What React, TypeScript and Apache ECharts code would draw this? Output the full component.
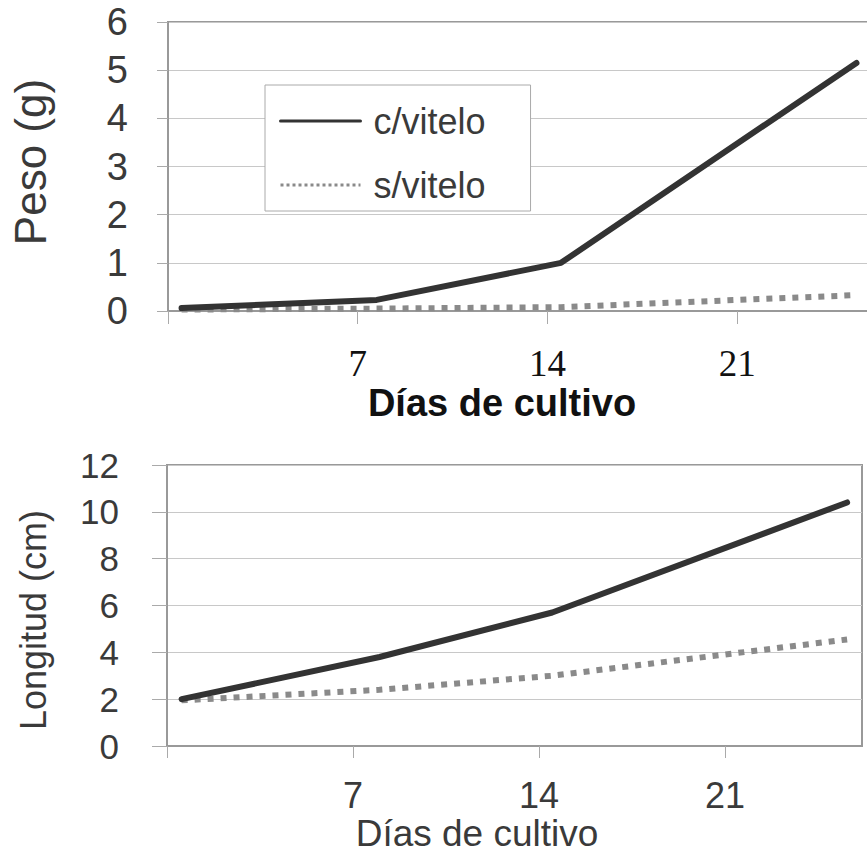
import React, { useEffect, useRef } from "react";
import * as echarts from "echarts";

// Sampling days (x positions)
const pesoDias = [0.5, 7.7, 14.5, 25.4];
const longDias = [0.55, 8.0, 14.5, 25.6];

// Weight (g)
const pesoConVitelo = [0.06, 0.23, 1.0, 5.15];
const pesoSinVitelo = [0.03, 0.05, 0.08, 0.33];

// Length (cm)
const longConVitelo = [2.0, 3.8, 5.7, 10.4];
const longSinVitelo = [1.95, 2.4, 3.0, 4.55];

const xTickValues = [0, 7, 14, 21];
const xLabelValues = [7, 14, 21];
const seriesNames = ["c/vitelo", "s/vitelo"];

const SANS = "Liberation Sans, Arial, sans-serif";
const SERIF = "Liberation Serif, Times New Roman, serif";

const pair = (xs: number[], ys: number[]) => xs.map((x, i) => [x, ys[i]]);

export default function App() {
  const ref = useRef<HTMLDivElement>(null);

  useEffect(() => {
    if (!ref.current) return;
    const chart = echarts.init(ref.current, null, { renderer: "svg" });

    const solid = {
      color: "#333",
      width: 6,
      cap: "round",
      join: "round",
    };
    const dotted = {
      color: "#8a8a8a",
      width: 6,
      type: [6, 7],
      cap: "butt",
    };
    const hiddenSymbol = { color: "rgba(0,0,0,0)", borderWidth: 0, opacity: 0 };

    chart.setOption({
      animation: false,
      backgroundColor: "#fff",
      grid: [
        {
          left: 168,
          top: 22,
          width: 702,
          height: 289,
          show: true,
          borderColor: "#999",
          borderWidth: 2,
          outerBoundsMode: "none",
        },
        {
          left: 167,
          top: 465,
          width: 695,
          height: 281,
          show: true,
          borderColor: "#999",
          borderWidth: 2,
          outerBoundsMode: "none",
        },
      ],
      xAxis: [
        {
          gridIndex: 0,
          type: "value",
          min: 0,
          max: 25.9,
          interval: 7,
          axisLine: { show: true, lineStyle: { color: "#999", width: 2 } },
          axisTick: {
            show: true,
            length: 13,
            lineStyle: { color: "#aaa", width: 1 },
            customValues: xTickValues,
          },
          axisLabel: {
            customValues: xLabelValues,
            fontFamily: SERIF,
            fontSize: 37,
            color: "#111",
            margin: 34,
          },
          splitLine: { show: false },
        },
        {
          gridIndex: 1,
          type: "value",
          min: 0,
          max: 26.16,
          interval: 7,
          axisLine: { show: true, lineStyle: { color: "#999", width: 2 } },
          axisTick: {
            show: true,
            length: 12,
            lineStyle: { color: "#aaa", width: 1 },
            customValues: xTickValues,
          },
          axisLabel: {
            customValues: xLabelValues,
            fontFamily: SANS,
            fontSize: 36,
            color: "#3a3a3a",
            margin: 31,
          },
          splitLine: { show: false },
        },
      ],
      yAxis: [
        {
          gridIndex: 0,
          type: "value",
          min: 0,
          max: 6,
          interval: 1,
          axisLine: { show: true, lineStyle: { color: "#999", width: 2 } },
          axisTick: {
            show: true,
            length: 11,
            lineStyle: { color: "#aaa", width: 1 },
          },
          axisLabel: {
            fontFamily: SANS,
            fontSize: 38,
            color: "#3a3a3a",
            margin: 40,
          },
          splitLine: { show: true, lineStyle: { color: "#c8c8c8", width: 1 } },
        },
        {
          gridIndex: 1,
          type: "value",
          min: 0,
          max: 12,
          interval: 2,
          axisLine: { show: true, lineStyle: { color: "#999", width: 2 } },
          axisTick: {
            show: true,
            length: 15,
            lineStyle: { color: "#aaa", width: 1 },
          },
          axisLabel: {
            fontFamily: SANS,
            fontSize: 35,
            color: "#3a3a3a",
            margin: 48,
          },
          splitLine: { show: true, lineStyle: { color: "#c8c8c8", width: 1 } },
        },
      ],
      legend: {
        show: true,
        orient: "vertical",
        left: 265,
        top: 85,
        padding: [18, 45, 8, 14],
        itemGap: 28,
        itemWidth: 80,
        itemHeight: 20,
        borderColor: "#aaa",
        borderWidth: 1,
        backgroundColor: "#fff",
        textStyle: {
          fontFamily: SANS,
          fontSize: 36,
          color: "#3a3a3a",
          padding: [0, 0, 0, 8],
        },
        data: [
          {
            name: seriesNames[0],
            itemStyle: hiddenSymbol,
            lineStyle: { width: 3, color: "#333", type: "solid" },
          },
          {
            name: seriesNames[1],
            itemStyle: hiddenSymbol,
            lineStyle: { width: 3, color: "#8a8a8a", type: [3, 3] },
          },
        ],
      },
      series: [
        {
          name: seriesNames[0],
          type: "line",
          xAxisIndex: 0,
          yAxisIndex: 0,
          data: pair(pesoDias, pesoConVitelo),
          symbol: "none",
          itemStyle: { color: "#333" },
          lineStyle: solid,
          z: 3,
        },
        {
          name: seriesNames[1],
          type: "line",
          xAxisIndex: 0,
          yAxisIndex: 0,
          data: pair(pesoDias, pesoSinVitelo),
          symbol: "none",
          itemStyle: { color: "#8a8a8a" },
          lineStyle: dotted,
          z: 2,
        },
        {
          name: seriesNames[0],
          type: "line",
          xAxisIndex: 1,
          yAxisIndex: 1,
          data: pair(longDias, longConVitelo),
          symbol: "none",
          itemStyle: { color: "#333" },
          lineStyle: solid,
          z: 3,
        },
        {
          name: seriesNames[1],
          type: "line",
          xAxisIndex: 1,
          yAxisIndex: 1,
          data: pair(longDias, longSinVitelo),
          symbol: "none",
          itemStyle: { color: "#8a8a8a" },
          lineStyle: dotted,
          z: 2,
        },
      ],
      graphic: [
        {
          type: "text",
          x: 30,
          y: 162,
          rotation: Math.PI / 2,
          style: {
            text: "Peso (g)",
            fontFamily: SANS,
            fontSize: 44,
            fill: "#3a3a3a",
            align: "center",
            verticalAlign: "middle",
            textAlign: "center",
            textVerticalAlign: "middle",
          },
        },
        {
          type: "text",
          x: 502,
          y: 403,
          style: {
            text: "Días de cultivo",
            fontFamily: SANS,
            fontWeight: "bold",
            fontSize: 38,
            fill: "#111",
            align: "center",
            verticalAlign: "middle",
            textAlign: "center",
            textVerticalAlign: "middle",
          },
        },
        {
          type: "text",
          x: 33,
          y: 620,
          rotation: Math.PI / 2,
          style: {
            text: "Longitud (cm)",
            fontFamily: SANS,
            fontSize: 36,
            fill: "#3a3a3a",
            align: "center",
            verticalAlign: "middle",
            textAlign: "center",
            textVerticalAlign: "middle",
          },
        },
        {
          type: "text",
          x: 477,
          y: 833,
          style: {
            text: "Días de cultivo",
            fontFamily: SANS,
            fontSize: 37,
            fill: "#3a3a3a",
            align: "center",
            verticalAlign: "middle",
            textAlign: "center",
            textVerticalAlign: "middle",
          },
        },
      ],
    });

    return () => chart.dispose();
  }, []);

  return (
    <div
      ref={ref}
      style={{ position: "absolute", left: 0, top: 0, width: 867, height: 858 }}
    />
  );
}
